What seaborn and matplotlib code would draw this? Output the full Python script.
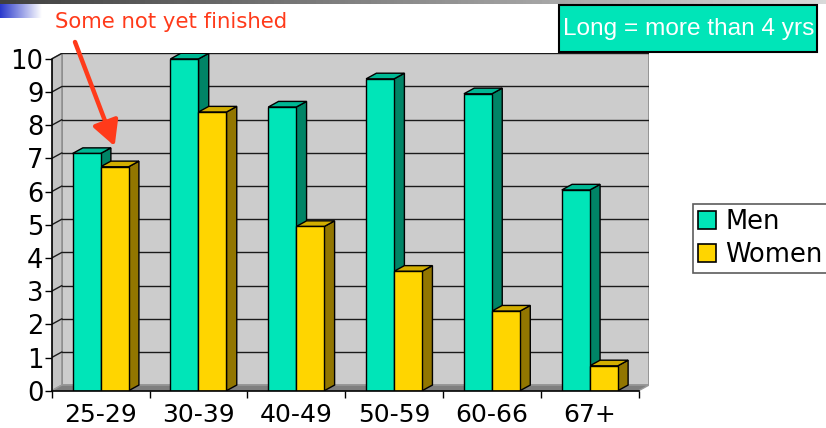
import numpy as np
import pandas as pd
import matplotlib
matplotlib.use("Agg")
import matplotlib.pyplot as plt
from matplotlib.patches import Polygon, Rectangle, Patch
import seaborn as sns

# ---- data ----
categories = ["25-29", "30-39", "40-49", "50-59", "60-66", "67+"]
men = [7.15, 10.0, 8.55, 9.4, 8.95, 6.05]
women = [6.75, 8.4, 4.95, 3.6, 2.4, 0.75]
series = ["Men", "Women"]
yticks = list(range(0, 11))
note_text = "Some not yet finished"
box_text = "Long = more than 4 yrs"

# ---- style ----
front = {"Men": "#00E5B8", "Women": "#FFD500"}
side = {"Men": "#008466", "Women": "#927600"}
top = {"Men": "#00B894", "Women": "#D2AE00"}
DX, DY = 0.105, 0.17

sns.set_theme(style="white")
plt.rcParams["font.family"] = ["DejaVu Sans"]

fig = plt.figure(figsize=(8.26, 4.28), dpi=100)
W, H = 826, 428
ax = fig.add_axes([51.7 / W, 37.3 / H, (649 - 51.7) / W, (390.7 - 53.3) / H])

df = pd.DataFrame({
    "age": categories * 2,
    "value": men + women,
    "sex": ["Men"] * len(categories) + ["Women"] * len(categories),
})
sns.barplot(data=df, x="age", y="value", hue="sex", order=categories,
            hue_order=series, palette=front, width=0.573, gap=0,
            saturation=1, edgecolor="black", linewidth=1.0,
            legend=False, ax=ax, zorder=3)

bars = list(ax.patches)
col2name = {tuple(np.round(matplotlib.colors.to_rgba(c), 3)): k for k, c in front.items()}


def bar_name(p):
    return col2name.get(tuple(np.round(p.get_facecolor(), 3)), "Men")


for p in bars:
    name = bar_name(p)
    x0, w, h = p.get_x(), p.get_width(), p.get_height()
    z = 2.0 if name == "Men" else 2.5
    side_poly = Polygon([(x0 + w, 0), (x0 + w + DX, DY), (x0 + w + DX, h + DY), (x0 + w, h)],
                        closed=True, facecolor=side[name], edgecolor="black", lw=1.0, zorder=z)
    top_poly = Polygon([(x0, h), (x0 + DX, h + DY), (x0 + w + DX, h + DY), (x0 + w, h)],
                       closed=True, facecolor=top[name], edgecolor="black", lw=1.0, zorder=z)
    ax.add_patch(side_poly)
    ax.add_patch(top_poly)

xmin, xmax = -0.5, len(categories) - 0.5
ymax = max(yticks)
# back wall
ax.add_patch(Rectangle((xmin + DX, DY), xmax - xmin, ymax, facecolor="#CCCCCC",
                       edgecolor="#8C8C8C", lw=1.2, zorder=0.5))
# left wall
ax.add_patch(Polygon([(xmin, 0), (xmin + DX, DY), (xmin + DX, ymax + DY), (xmin, ymax)],
                     closed=True, facecolor="#C4C4C4", edgecolor="#8C8C8C", lw=1.0, zorder=0.6))
# floor
ax.add_patch(Polygon([(xmin, 0), (xmax, 0), (xmax + DX, DY), (xmin + DX, DY)],
                     closed=True, facecolor="#7F7F7F", edgecolor="#9A9A9A", lw=1.0, zorder=0.7))
for k in yticks[1:]:
    ax.plot([xmin + DX, xmax + DX], [k + DY, k + DY], color="#1A1A1A", lw=1.0, zorder=1.0)
    ax.plot([xmin, xmin + DX], [k, k + DY], color="#1A1A1A", lw=1.0, zorder=1.0)

ax.set_xlim(xmin, xmax + DX)
ax.set_ylim(0, ymax + DY)
ax.set_facecolor("none")
ax.set_xlabel("")
ax.set_ylabel("")
for s in ["top", "right"]:
    ax.spines[s].set_visible(False)
ax.spines["left"].set_bounds(0, ymax)
ax.spines["bottom"].set_bounds(xmin, xmax)
for s in ["left", "bottom"]:
    ax.spines[s].set_color("black")
    ax.spines[s].set_linewidth(1.2)
    ax.spines[s].set_zorder(4)

ax.set_yticks(yticks)
ax.set_yticklabels([str(t) for t in yticks], fontsize=18.5, color="black")
ax.tick_params(axis="y", length=5, width=1, direction="out", pad=1, left=True, color="black")
ax.set_xticks(range(len(categories)))
ax.set_xticklabels(categories, fontsize=18, color="black")
ax.set_xticks(np.arange(xmin, xmax + 0.01, 1.0), minor=True)
ax.tick_params(axis="x", which="major", length=0, pad=9)
ax.tick_params(axis="x", which="minor", length=5, width=1, direction="out", bottom=True, color="black")

# legend
handles = [Patch(facecolor=front[s], edgecolor="black", lw=1.2, label=s) for s in series]
leg = fig.legend(handles=handles, loc="upper left", bbox_to_anchor=(693 / W, 1 - 204 / H),
                 fontsize=18.5, frameon=True, fancybox=False, handlelength=0.7,
                 handleheight=0.7, handletextpad=0.35, labelspacing=0.28,
                 borderpad=0.2, borderaxespad=0)
leg.get_frame().set_edgecolor("#333333")
leg.get_frame().set_linewidth(1.2)
for txt in leg.get_texts():
    txt.set_color("black")

# annotation
fig.text(171 / W, 1 - 22 / H, note_text, fontsize=15.3, color="#FF3A1A",
         ha="center", va="center")
women_bars = sorted([p for p in bars if bar_name(p) == "Women"], key=lambda p: p.get_x())
wb = women_bars[0]
ax.annotate("", xy=(wb.get_x() + wb.get_width() / 2, wb.get_height() + 0.62),
            xycoords="data", xytext=(75, H - 42), textcoords="figure pixels",
            arrowprops=dict(arrowstyle="-|>,head_length=0.75,head_width=0.4",
                            color="#FF3A1A", lw=3.2, mutation_scale=20, shrinkA=0, shrinkB=0),
            zorder=6, annotation_clip=False)

# "Long" box
fig.patches.append(Rectangle((559 / W, 1 - 52 / H), (817 - 559) / W, 47 / H,
                             transform=fig.transFigure, facecolor="#00E5B8",
                             edgecolor="black", lw=1.5, zorder=5))
fig.text(689 / W, 1 - 29 / H, box_text, fontsize=17.6, color="white",
         family=["Liberation Sans"], ha="center", va="center", zorder=6)

# decoration: top gradient strip and blue block
ax_top = fig.add_axes([0, 1 - 4 / H, 1, 4 / H])
grad = np.linspace(0.25, 0.85, 256).reshape(1, -1)
ax_top.imshow(grad, aspect="auto", cmap="gray", vmin=0, vmax=1)
ax_top.axis("off")
ax_blue = fig.add_axes([0, 1 - 18 / H, 42 / W, 14 / H])
t = np.linspace(0, 1, 128)
blue = np.array([0.16, 0.22, 0.80])
img = (blue[None, :] * (1 - t[:, None]) + np.ones(3)[None, :] * t[:, None])[None, :, :]
ax_blue.imshow(img, aspect="auto")
ax_blue.axis("off")

fig.savefig("out.png", dpi=100)
